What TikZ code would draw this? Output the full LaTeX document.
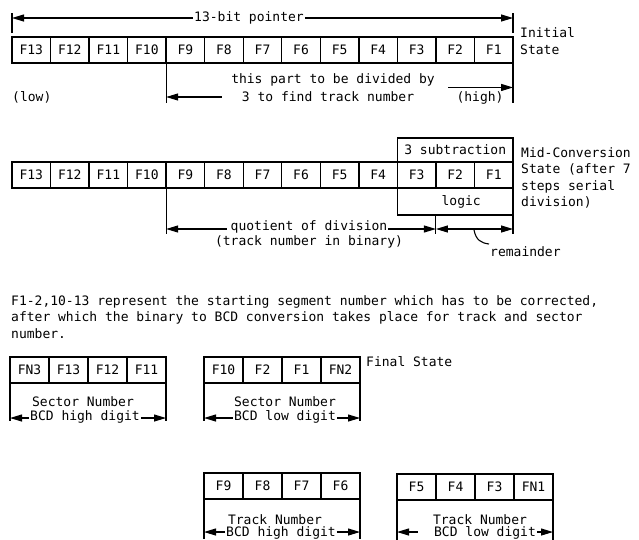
\documentclass[tikz,border=0pt]{standalone}
\usepackage{fontspec}
\setmonofont{DejaVu Sans Mono}
\usetikzlibrary{arrows.meta}
\begin{document}
\begin{tikzpicture}[x=1pt,y=-1pt,
  every node/.style={font=\ttfamily\fontsize{13}{16.6}\selectfont, inner sep=1pt},
  cell/.style={draw, line width=1.4pt, outer sep=0pt, minimum width=38.54pt, minimum height=26pt, anchor=north west, inner sep=0pt},
  cellf/.style={cell, minimum width=39pt},
  bar/.style={line width=1.1pt},
  tip/.tip={Triangle[length=12pt,width=7pt]},
  arr/.style={line width=1.1pt, -tip},
  arrtwo/.style={line width=1.1pt, tip-tip},
  txt/.style={anchor=west, align=left}]
\useasboundingbox (0,0) rectangle (639,539);
\fill[white] (0,0) rectangle (639,539);

% ---------- Initial state ----------
\foreach \i in {0,...,12} {
  \pgfmathtruncatemacro\n{13-\i}
  \node[cell] (t\n) at ({12+38.54*\i},37) {F\n};
}
\node[fill=white, inner sep=1.5pt] (ptr) at (249,18) {13-bit pointer};
\draw[bar] ([yshift=4pt]t13.north west) -- ++(0,-20);
\draw[bar] ([yshift=4pt]t1.north east) -- ++(0,-20);
\draw[arr] (ptr.west) -- (ptr.west -| t13.west);
\draw[arr] (ptr.east) -- (ptr.east -| t1.east);
\node[txt] (ini) at (519,41) {Initial\\State};

\node (div1) at (333,80) {this part to be divided by};
\node (div2) at (328,97) {3 to find track number};
\node (high) at (480,98) {(high)};
\node[txt] (low) at (11,97) {(low)};
\draw[bar] (t9.south west) -- ++(0,40);
\draw[bar] (t1.south east) -- ++(0,40);
\coordinate (ls) at ([xshift=-19pt]div2.west);
\draw[arr] (ls) -- (ls -| t9.west);
\coordinate (hs) at ([xshift=-7pt,yshift=3pt]high.north west);
\draw[arr] (hs) -- (hs -| t1.east);

% ---------- Mid-conversion state ----------
\foreach \i in {0,...,12} {
  \pgfmathtruncatemacro\n{13-\i}
  \node[cell] (m\n) at ({12+38.54*\i},162) {F\n};
}
\node[draw, line width=1.4pt, outer sep=0pt, anchor=south west, minimum width=115.62pt, minimum height=24pt, inner sep=0pt] (sub) at (m3.north west) {3 subtraction};
\node[draw, line width=1.4pt, outer sep=0pt, anchor=north west, minimum width=115.62pt, minimum height=27pt, inner sep=0pt, text width=110pt, align=center] (logic) at (m3.south west) {\hspace*{12pt}logic};
\node[txt] (midtxt) at (520,178) {Mid-Conversion\\State (after 7\\steps serial\\division)};

\node (q1) at (309,227) {quotient of division};
\node (q2) at (309,242) {(track number in binary)};
\coordinate (qy) at ([yshift=-2pt]q1.east);
\coordinate (qx) at ([yshift=-2pt,xshift=-3pt]q1.west);
\draw[bar] (m9.south west) -- ++(0,46);
\draw[bar] (logic.south -| m2.west) -- ++(0,19);
\draw[bar] (logic.south east) -- ++(0,19);
\draw[arr] (qx) -- (qx -| m9.west);
\draw[arr] (qy) -- (qy -| m2.west);
\draw[arrtwo] (qy -| m2.west) -- (qy -| m1.east);
\node[txt] (rem) at (489,252) {remainder};
\draw[line width=1.1pt] (474,230) .. controls (476,240) and (481,243) .. (489,244);

% ---------- paragraph ----------
\node[txt, anchor=north west] (para) at (10,294) {F1-2,10-13 represent the starting segment number which has to be corrected,\\after which the binary to BCD conversion takes place for track and sector\\number.};

% ---------- Final state ----------
\foreach \t [count=\k from 0] in {FN3,F13,F12,F11} {
  \node[cellf] (sh\k) at ({10+39*\k},357) {\t};
}
\foreach \t [count=\k from 0] in {F10,F2,F1,FN2} {
  \node[cellf] (sl\k) at ({204+39*\k},357) {\t};
}
\node[txt] (fin) at (365,362) {Final State};
\foreach \t [count=\k from 0] in {F9,F8,F7,F6} {
  \node[cellf] (th\k) at ({204+39*\k},473) {\t};
}
\foreach \t [count=\k from 0] in {F5,F4,F3,FN1} {
  \node[cellf] (tl\k) at ({397+39*\k},474) {\t};
}

% sector high
\node (shn) at (83,402) {Sector Number};
\node (shd) at (85,417) {BCD high digit};
\draw[bar] (sh0.south west) -- ++(0,38);
\draw[bar] (sh3.south east) -- ++(0,38);
\draw[arr] ([yshift=-1pt]shd.west) -- ([yshift=-1pt]shd.west -| sh0.west);
\draw[arr] ([yshift=-1pt]shd.east) -- ([yshift=-1pt]shd.east -| sh3.east);

% sector low
\node (sln) at (285,402) {Sector Number};
\node (sld) at (285,417) {BCD low digit};
\draw[bar] (sl0.south west) -- ++(0,38);
\draw[bar] (sl3.south east) -- ++(0,38);
\draw[arr] ([yshift=-1pt]sld.west) -- ([yshift=-1pt]sld.west -| sl0.west);
\draw[arr] ([yshift=-1pt]sld.east) -- ([yshift=-1pt]sld.east -| sl3.east);

% track high
\node (thn) at (275,520) {Track Number};
\node (thd) at (281,533) {BCD high digit};
\draw[bar] (th0.south west) -- ++(0,40);
\draw[bar] (th3.south east) -- ++(0,40);
\draw[arr] ([yshift=1pt]thd.west) -- ([yshift=1pt]thd.west -| th0.west);
\draw[arr] ([yshift=1pt]thd.east) -- ([yshift=1pt]thd.east -| th3.east);

% track low
\node (tln) at (480,520) {Track Number};
\node (tld) at (485,533) {BCD low digit};
\draw[bar] (tl0.south west) -- ++(0,40);
\draw[bar] (tl3.south east) -- ++(0,40);
\coordinate (tla) at ([xshift=-15pt,yshift=1pt]tld.west);
\draw[arr] (tla) -- (tla -| tl0.west);
\draw[arr] ([yshift=1pt]tld.east) -- ([yshift=1pt]tld.east -| tl3.east);
\end{tikzpicture}
\end{document}
